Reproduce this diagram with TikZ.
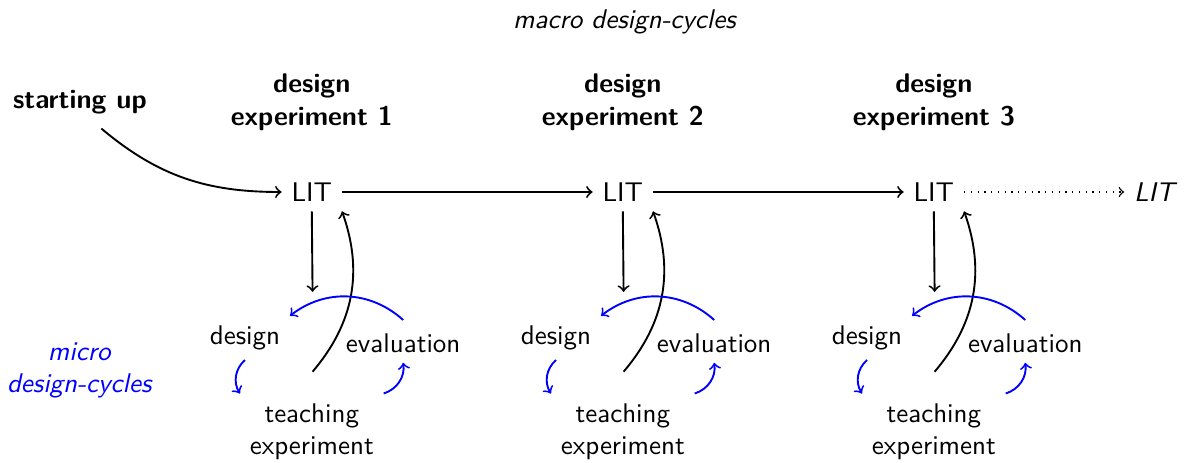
\documentclass[tikz,border=0pt]{standalone}
\usepackage{tikz}
\usetikzlibrary{positioning,arrows}
\renewcommand{\familydefault}{\sfdefault}

\begin{document}
\begin{tikzpicture}[
        line width=0.7pt,
        heading/.style={font=\bfseries, align=center},
        cycle/.style={->, blue}
    ]
        \useasboundingbox (-4.06,-3.52) rectangle (11.37,2.5);
        % macro cycle
        \node (lit1) at (0,0) {LIT};
        \node (lit2) at (4.05,0) {LIT};
        \node (lit3) at (8.1,0) {LIT};
        \node (litend) at (10.99,0) {\textit{LIT}};
        \node (macro) at (4.08,2.21) {\textit{macro design-cycles}};
        \node[heading] (start) at (-3.02,1.17) {starting up};
        \node[blue, align=center] (micro) at (-3.02,-2.32) {\textit{micro}\\\textit{design-cycles}};
        \draw[->] ([shift={(0.28,-0.06)}]start.south) to[out=-40, in=180] (lit1);
        \draw[->] (lit1) to (lit2);
        \draw[->] (lit2) to (lit3);
        \draw[->, dotted, line width=0.5pt] (lit3) to (litend);
        % micro cycles
        \foreach \i/\x in {1/0, 2/4.05, 3/8.1} {
            \node[heading, above=0.42 of lit\i] (exp\i) {design\\experiment \i};
            \node (design\i) at (\x-0.87,-1.90) {design};
            \node (eval\i) at (\x+1.19,-1.97) {evaluation};
            \node[align=center] (teach\i) at (\x,-3.12) {teaching\\experiment};
            \coordinate (in\i) at (\x+0.01,-1.30);
            \coordinate (out\i) at (\x+0.01,-2.34);
            \draw[->] (lit\i.south) to (in\i);
            \draw[->] (out\i) to[bend right=30] (lit\i.south east);
            \draw[cycle] (design\i.south) to[bend right=40] (teach\i.north west);
            \draw[cycle] (teach\i.north east) to[bend right=40] (eval\i.south);
            \draw[cycle] ([yshift=0.5mm]eval\i.north) to[bend right=40] (design\i.north east);
        }
    \end{tikzpicture}
\end{document}
